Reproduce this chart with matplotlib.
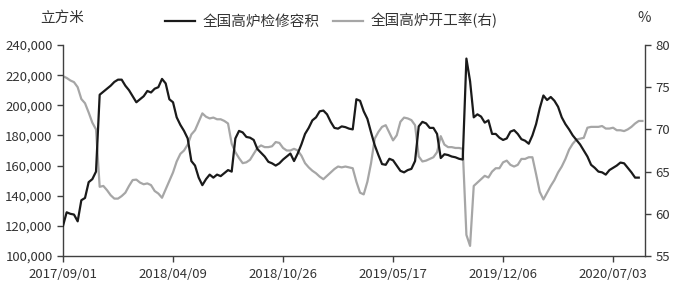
import matplotlib
matplotlib.use("Agg")
import matplotlib.pyplot as plt
from matplotlib.lines import Line2D

plt.rcParams['font.family'] = ['Noto Sans CJK SC', 'DejaVu Sans']

# ---------------- data ----------------
series_left_name = "全国高炉检修容积"
series_right_name = "全国高炉开工率(右)"
left_unit = "立方米"
right_unit = "%"

tick_labels = ["2017/09/01", "2018/04/09", "2018/10/26",
               "2019/05/17", "2019/12/06", "2020/07/03"]

# weekly values (cubic metres), thousands
maintenance_k = [
    120, 129, 128, 127.5, 123, 137, 138.5, 149, 151, 156,
    207, 209, 211, 213, 215.5, 217, 217, 213, 210, 206,
    202, 204, 206, 209.5, 208.5, 211, 212, 217.5, 214.5, 204,
    202, 192, 187, 183, 178, 163, 160, 152, 147, 151,
    154, 152, 154, 153, 155, 157, 156, 178, 183, 182,
    179, 178.5, 177, 171, 168.5, 166, 162.5, 161.5, 160, 161.5,
    164, 166, 168, 163, 168, 174, 181, 185, 190, 192,
    196, 196.5, 194, 189, 185, 184.5, 186, 185.5, 184.5, 184,
    204, 203, 196, 191, 182, 173.5, 167, 161, 160.5, 164.5,
    163.5, 160, 156.5, 155.5, 157, 157.8, 163, 186, 189, 188,
    185, 185, 181, 165, 167.5, 167, 166, 165.5, 164.5, 164,
    231, 216, 192, 194, 192.5, 188.5, 190, 181, 181, 178.5,
    177, 178, 182.5, 183.5, 181, 177.5, 176.5, 174.5, 180, 187.5,
    198, 206.5, 203.5, 205.5, 203, 199, 192, 187.5, 184, 180,
    177, 174, 170, 166, 160.5, 158.5, 156, 155.5, 154, 157,
    158.5, 160, 162, 161.5, 158.5, 155.5, 152, 152,
]

# weekly operating rate (%)
operating_rate = [
    76.3, 76.1, 75.8, 75.6, 75.0, 73.6, 73.1, 72.0, 70.8, 70.0,
    63.2, 63.3, 62.8, 62.2, 61.8, 61.8, 62.1, 62.5, 63.3, 64.0,
    64.05, 63.7, 63.5, 63.6, 63.4, 62.7, 62.4, 61.9, 62.9, 63.9,
    64.9, 66.2, 67.1, 67.5, 68.2, 69.4, 69.9, 70.9, 71.9, 71.5,
    71.3, 71.4, 71.2, 71.2, 71.0, 70.7, 68.3, 67.3, 66.6, 66.0,
    66.1, 66.4, 67.1, 67.8, 68.1, 67.9, 67.9, 68.0, 68.5, 68.4,
    67.8, 67.5, 67.5, 67.7, 67.5, 66.9, 66.0, 65.5, 65.1, 64.8,
    64.4, 64.1, 64.5, 64.9, 65.3, 65.6, 65.5, 65.6, 65.5, 65.4,
    63.8, 62.5, 62.3, 63.8, 66.0, 68.9, 69.7, 70.3, 70.5, 69.6,
    68.7, 69.3, 70.9, 71.4, 71.3, 71.1, 70.5, 66.8, 66.2, 66.3,
    66.5, 66.7, 67.3, 69.2, 68.2, 67.9, 67.9, 67.8, 67.8, 67.7,
    57.5, 56.2, 63.3, 63.7, 64.1, 64.5, 64.3, 65.0, 65.4, 65.4,
    66.1, 66.3, 65.8, 65.6, 65.8, 66.5, 66.5, 66.7, 66.7, 64.7,
    62.6, 61.7, 62.5, 63.3, 64.0, 64.9, 65.6, 66.5, 67.6, 68.3,
    68.8, 68.9, 69.0, 70.2, 70.3, 70.3, 70.3, 70.4, 70.1, 70.1,
    70.2, 69.9, 69.9, 69.8, 70.0, 70.3, 70.7, 71.0, 71.0,
]

# ---------------- plot ----------------
W, H = 679, 287
fig = plt.figure(figsize=(W / 100, H / 100), dpi=100)
ax = fig.add_axes([63 / W, 1 - 256 / H, (645 - 63) / W, (256 - 45) / H])
ax2 = ax.twinx()

black = "#1a1a1a"
grey = "#a6a6a6"
axis_col = "#404040"
text_col = "#333333"

x_left = list(range(len(maintenance_k)))
x_right = list(range(len(operating_rate)))
ax.plot(x_left, [v * 1000 for v in maintenance_k], color=black, lw=1.6, zorder=3)
ax2.plot(x_right, operating_rate, color=grey, lw=1.6, zorder=2)
ax.set_zorder(ax2.get_zorder() + 1)
ax.patch.set_visible(False)

ax.set_xlim(0, 158.7)
ax.set_ylim(100000, 240000)
ax2.set_ylim(55, 80)

ax.set_yticks(range(100000, 240001, 20000))
ax.set_yticklabels([f"{v:,}" for v in range(100000, 240001, 20000)])
ax2.set_yticks(range(55, 81, 5))

step = 30
ax.set_xticks([i * step for i in range(len(tick_labels))])
ax.set_xticklabels(tick_labels)

for a in (ax, ax2):
    a.spines["top"].set_visible(False)
    for s in ("left", "right", "bottom"):
        a.spines[s].set_color(axis_col)
        a.spines[s].set_linewidth(1.0)
    a.tick_params(colors=axis_col, labelcolor=text_col, labelsize=9.5,
                  length=4.5, width=1.0, pad=3)
ax.spines["right"].set_visible(False)
ax2.spines["left"].set_visible(False)
ax2.spines["bottom"].set_visible(False)
ax.tick_params(axis="x", pad=4)

fig.text(62 / W, 1 - 18 / H, left_unit, ha="center", va="center",
         fontsize=10.5, color=text_col)
fig.text(644 / W, 1 - 18 / H, right_unit, ha="center", va="center",
         fontsize=10.5, color=text_col)

handles = [Line2D([], [], color=black, lw=1.6),
           Line2D([], [], color=grey, lw=1.6)]
leg = fig.legend(handles, [series_left_name, series_right_name], ncol=2,
                 loc="center", bbox_to_anchor=(331 / W, 1 - 21 / H),
                 frameon=False, fontsize=10.5, handlelength=2.1,
                 handletextpad=0.5, columnspacing=0.9)
for t in leg.get_texts():
    t.set_color(text_col)

fig.savefig("out.png", dpi=100)
